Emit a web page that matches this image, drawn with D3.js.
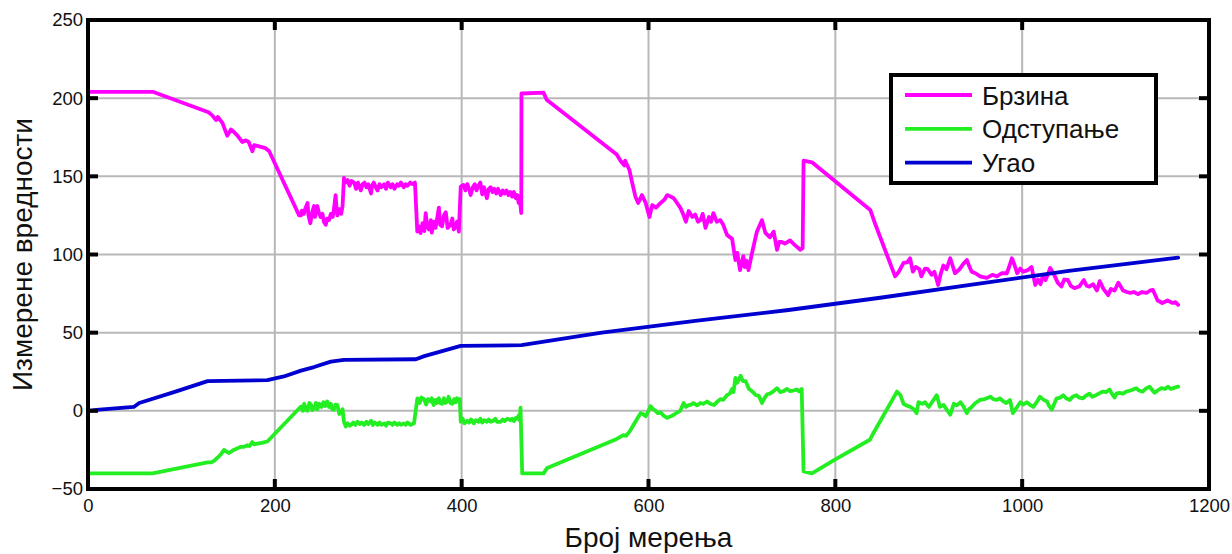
<!DOCTYPE html>
<html>
<head>
<meta charset="utf-8">
<script src="https://cdn.jsdelivr.net/npm/d3@7"></script>
<style>
  html, body { margin: 0; padding: 0; background: #fff; }
  svg { display: block; font-family: "Liberation Sans", Arial, sans-serif; }
</style>
</head>
<body>
<svg id="chart" width="1232" height="554"></svg>
<script>
// Measurement series: [measurement index, value]
const brzina = [
  [0,204],[70,204],[129,191],[133,189],[137,186],[139,188],[144,184],[149,176],[153,180],[156,178.5],
  [160,176],[165,172],[169,173],[172,172],[176,166],[178,170],[190,168],[194,166],
  [226,125],[228,125],[229,128],[231,126],[233,130],[235,133],[236,125],[238,120],[240,127],[242,131],
  [243,124],[245.6,131],[247,127],[249,124],[251,126],[252.5,121],[254.5,119],[256,123],[258,122],[260,126],
  [262,124],[263.5,130],[265,138],[266,130],[267,125],[269,129],[271,126],[272.5,131],
  [274,149],[276,146],[278,147.6],[280,144],[282,147],[285,146],[287,142],[289,146],[292,141],[294,145],
  [296,146],[298,143],[300,145],[303,139],[304,144],[306,146],[308,143],[310,141],[312,145],[314,143],
  [317,145],[319,142],[321,146],[324,143],[326,145],[328,142],[331,145],[333,144],[335,146],[338,143],
  [340,145],[342,144],[345,146],[347,145],[350,146],
  [352.5,114.6],[354,118],[356,113.7],[358,120],[360,115],[361.5,126.5],[363,118],[365,116],[367,122],[368,114],
  [370,121],[372,117],[374,124],[375.6,130],[377,119],[379,118],[381,125],[383,127],[385,117],[388,119],
  [390,123],[391.5,116],[393.6,117.8],[395,121],[397,114.6],
  [399,143.4],[402,144.5],[404,141],[406,145],[408,142],[409.6,138],[412,143],[414,145],[416,141],[418,144],
  [420,146],[422,138.5],[424,143],[427,136],[429,142],[431,143],[433,140],[435,142],[437,139],[439,142],
  [441.7,138],[444,141],[446,139],[448,141],[450,138],[452,140],[454,137],[456,140],[458,136],[459.6,138],
  [461,133],[462,137],[463.8,126.5],
  [464,203],[487.7,203.5],[491,199],[566,164],[570,160],[574,157],[575,160],[579.6,154],[582.5,146],[586,137],
  [589,133],[593,138],[597,133],[601,124],[604,131.6],[608,130],[613,133],[617,135],[620,138],[624,137],
  [627,136],[634,130],[637,126],[640,121],[643,127.8],[647,124],[650,125.6],[653,121],[655.6,122],[658,126],
  [661,117],[664.7,124],[667,121],[669.5,126.5],[673,121],[677,122],[680,119],[684,112.5],[689.5,110],[693,96.5],
  [695,101],[698,90],[701.5,99],[703,92],[705,96],[707,90],[710.5,100],[716,114.6],[721.5,122],[725,114],
  [730,111],[734,114.6],[737.6,103],[740,108],[742.6,108],[746,107],[751.5,109],[756.7,106],[762.6,103],[765,104],
  [766,160],[775,159],[837.4,128.5],[843,119],
  [864,86],[868,89],[873,94.6],[877,95],[880,97.6],[883,89],[886,92],[890,90.6],[892,86],[896,91],
  [899,90.6],[903,87],[906,89],[908.6,83.7],[910,80.5],[913,88],[915.6,93],[919,90.6],[923,97.6],[926,92],
  [928,88],[933,90.6],[937,94],[940.8,96.5],[943,93],[946,89],[950,88],[955,86],[962,85],[968,87],
  [973,86],[978,88],[983.6,88],[986,92],[989,97.6],[992,93],[994.6,88],[998,91],[1001,89],[1006,90],
  [1010,92],[1014,80.5],[1017,84],[1019.6,81],[1022,86],[1025,83.7],[1028,88],[1030,91.4],[1035,86],[1038,82],
  [1042,79.5],[1045,84],[1049,83.7],[1052,80],[1056,78.5],[1061,79.5],[1064,82],[1066,83.7],[1069,80],[1072,79.5],
  [1076,81],[1080,77],[1083,83],[1087,78],[1092,74],[1095,78],[1099,77],[1103,82],[1108,77],[1112,76],
  [1115.5,75.4],[1120,76],[1124,74.6],[1128,76],[1133,75.4],[1137,77],[1140,77.3],[1145,70.6],[1150,69],[1155.6,70.6],
  [1161,69],[1164,69.5],[1167,67.8]
];

const odstupanje = [
  [0,-40],[69,-40],[128,-33],[131.6,-33],[135,-32],[138.6,-30],[142,-28],[145.6,-25],[148,-26],[151,-27],
  [156,-25],[160,-24],[163.6,-23],[167,-23],[170.8,-22],[173,-22.5],[175.8,-20],[178,-21.5],[181,-21],[186,-20.5],
  [192,-19.6],
  [228,2.8],[230,0],[231.5,4.5],[233,1],[235,0],[237,5],[238.9,3.7],[240,0.5],[242,1.7],[244,5],
  [245.5,1],[247.6,4.5],[250,2.5],[252,5.5],[254,3],[256,6],[258,2.5],[260,4.5],[261.5,1],[263,0.6],
  [265,4],[267,3.7],[269,-2],[271,-1],[272.5,1],
  [274,-7],[276,-10],[278,-8],[280,-9.5],[281.7,-9],[284,-7.5],[286,-9],[288.6,-7],[291,-8.5],[293,-7.5],
  [295.6,-9],[298,-7],[300,-8.5],[303,-6.4],[305,-9],[307,-7.5],[310,-9],[312,-7.5],[314,-9],[317,-8],
  [319,-9.5],[321,-7.5],[324,-8],[326,-9],[328,-7.5],[331,-9],[333,-8],[335,-9],[338,-8],[340,-9],
  [342,-7.5],[345.5,-9],[347,-8.5],[349,-8],
  [352.6,8],[355,5],[357,8.5],[359.7,7.5],[362,4],[364,7.5],[366.8,6],[368,8],[370,3.7],[372,7],
  [373.5,5],[375.6,8],[377,5],[379,4.5],[381,8],[382.5,5],[384.5,6],[386,9],[388,5],[390,4.5],
  [392,7.5],[393.5,5.5],[395,8],[397,6],[398,7.5],
  [399,-7],[401,-5],[403,-8],[406,-6.4],[408,-7.5],[410,-5.5],[413,-8],[415,-6],[418,-7],[420,-5],
  [422,-7.5],[424,-6],[427,-7],[429,-5.5],[431,-7],[434,-6.4],[436,-5],[438,-7],[441.7,-7],[444,-5.5],
  [446,-6.5],[449,-5],[452,-6],[454,-5],[456,-6.5],[458,-4.5],[459.6,-5],[461,-3],[462,-6],[463,2],
  [464.8,-40],[487.7,-40],[491.6,-36.5],[566,-18],[573,-15.6],[576,-16],[580,-13],[583,-10],[586,-7],[589,-4],
  [591.6,-1.5],[594,-2],[597,-3.5],[600,0],[602,3],[605,1],[607.6,0],[610,-1.5],[612.9,-1],[616,-3],
  [620,-4.5],[624,-3.5],[627,-2.5],[631,-1],[634,0],[637.6,5],[640,2.5],[643,3.7],[646,4],[648,5],
  [652,3.5],[655.6,5],[659,4.5],[662.7,6],[666,4.5],[670,3.7],[674,6],[677,7.5],[680,7],[684,10],
  [687,11],[689.6,14],[691,12],[693,21],[695,18],[698.6,22.4],[701,19],[704,19],[707.5,14],[710,13],
  [712.6,11.5],[715,10],[718,9.6],[721.5,5],[724,8],[727,10.6],[730,11],[734,12.6],[737.6,14.5],[741,12],
  [744.6,12.6],[748,14],[751.6,12.6],[755,13],[758.8,13.6],[761,12.5],[764,14],
  [766,-38.8],[775,-40],[800,-31],[837,-18.5],[841,-14],[866,12.3],[869.7,10],[873,4.5],[876,3.5],[880.5,2.5],
  [884,1],[887,-1.5],[889,5.5],[893,4.5],[896,5.5],[900,2.5],[904,6],[908.6,10],[912,2.5],[916,3.7],
  [919,1],[923,-2.5],[926.8,4.5],[930,3.5],[934,5.5],[937,3],[940.8,-1.5],[943,1],[946,2.5],[950,5],
  [955,7],[960,7.5],[966,9],[969,7.5],[973,7],[976,8],[980,6],[983,5],[987,7],[990,-1.5],
  [994,2],[998,5.5],[1001,4],[1005,5.5],[1008,4],[1012,2.5],[1016,6],[1019,9],[1023,7],[1026.6,6],
  [1029,3],[1031.8,0.8],[1034,4],[1037,8],[1041,8.5],[1044,10],[1047,8],[1051,7],[1054,9],[1058,10],
  [1061,8.5],[1065,8],[1068,9.5],[1072,11],[1075,9],[1079,10],[1082,11],[1086,12.3],[1090,12],[1093.6,13.6],
  [1096,11],[1099,8.5],[1101,11],[1104,11.5],[1108,11],[1111.4,12.3],[1116,13],[1122,14.5],[1125,13],[1129,12.3],
  [1132,14],[1136.4,15.5],[1139,13.5],[1141.7,11.5],[1145,13],[1149,14.5],[1153,14],[1156,15.5],[1159,14],[1161.6,14.5],
  [1164,15],[1167,15.5]
];

const ugao = [
  [0,0],[9,0.6],[49,2.5],[54.8,5],[92,12],[128,19],[192,19.6],[209.7,22],[228,25.7],[242,28],
  [260,31.5],[274,32.6],[351,33],[360,35],[399,41.5],[464,42],[550,50],[650,57.5],[750,64.5],[850,72.5],
  [950,81],[1050,89.5],[1167,98]
];

const xTicks = [0, 200, 400, 600, 800, 1000, 1200];
const yTicks = [-50, 0, 50, 100, 150, 200, 250];

const seriesNames = ["Брзина", "Одступање", "Угао"];
const seriesColors = ["#ff00ff", "#22ee22", "#0000d0"];
const xTitle = "Број мерења";
const yTitle = "Измерене вредности";

// Layout
const W = 1232, H = 554;
const m = { left: 88, right: 23, top: 20, bottom: 65 };
const x0 = m.left, x1 = W - m.right, y0 = m.top, y1 = H - m.bottom;
const frameW = 4, tickLen = 10, tickW = 4;

const svg = d3.select("#chart");
const x = d3.scaleLinear().domain([0, 1200]).range([x0, x1]);
const y = d3.scaleLinear().domain([-50, 250]).range([y1, y0]);

// Grid
const grid = svg.append("g").attr("stroke", "#b8b8b8").attr("stroke-width", 2);
xTicks.slice(1, -1).forEach(t => grid.append("line")
  .attr("x1", x(t)).attr("x2", x(t)).attr("y1", y0).attr("y2", y1));
yTicks.slice(1, -1).forEach(t => grid.append("line")
  .attr("x1", x0).attr("x2", x1).attr("y1", y(t)).attr("y2", y(t)));

// Series
const line = d3.line().x(d => x(d[0])).y(d => y(d[1]));
[brzina, odstupanje, ugao].forEach((data, i) => {
  svg.append("path").datum(data)
    .attr("d", line)
    .attr("fill", "none")
    .attr("stroke", seriesColors[i])
    .attr("stroke-width", 3.8)
    .attr("stroke-linejoin", "round")
    .attr("stroke-linecap", "round");
});

// Tick labels from d3 axes (marks drawn separately below)
const fmt = d3.format("d");
const axB = svg.append("g").attr("transform", `translate(0,${y1})`)
  .call(d3.axisBottom(x).tickValues(xTicks).tickFormat(fmt).tickSize(0).tickPadding(10));
const axL = svg.append("g").attr("transform", `translate(${x0},0)`)
  .call(d3.axisLeft(y).tickValues(yTicks).tickFormat(fmt).tickSize(0).tickPadding(5));
[axB, axL].forEach(a => {
  a.select(".domain").remove();
  a.selectAll(".tick line").remove();
  a.selectAll(".tick text").attr("fill", "#111").attr("font-size", 18.5)
    .attr("font-family", "Liberation Sans, Arial, sans-serif");
});

// Inward tick marks on all four sides
const marks = svg.append("g").attr("fill", "#000");
xTicks.forEach(t => {
  marks.append("rect").attr("x", x(t) - tickW / 2).attr("y", y1 - tickLen).attr("width", tickW).attr("height", tickLen);
  marks.append("rect").attr("x", x(t) - tickW / 2).attr("y", y0).attr("width", tickW).attr("height", tickLen);
});
yTicks.forEach(t => {
  marks.append("rect").attr("x", x0).attr("y", y(t) - tickW / 2).attr("width", tickLen).attr("height", tickW);
  marks.append("rect").attr("x", x1 - tickLen).attr("y", y(t) - tickW / 2).attr("width", tickLen).attr("height", tickW);
});

// Frame as four solid bars
const h = frameW / 2;
const frame = svg.append("g").attr("fill", "#000");
frame.append("rect").attr("x", x0 - h).attr("y", y0 - h).attr("width", x1 - x0 + frameW).attr("height", frameW);
frame.append("rect").attr("x", x0 - h).attr("y", y1 - h).attr("width", x1 - x0 + frameW).attr("height", frameW);
frame.append("rect").attr("x", x0 - h).attr("y", y0 - h).attr("width", frameW).attr("height", y1 - y0 + frameW);
frame.append("rect").attr("x", x1 - h).attr("y", y0 - h).attr("width", frameW).attr("height", y1 - y0 + frameW);

// Axis titles
svg.append("text")
  .attr("x", (x0 + x1) / 2).attr("y", 547)
  .attr("text-anchor", "middle").attr("font-size", 28).attr("fill", "#111")
  .text(xTitle);
svg.append("text")
  .attr("transform", `translate(32,${(y0 + y1) / 2}) rotate(-90)`)
  .attr("text-anchor", "middle").attr("font-size", 28).attr("fill", "#111")
  .text(yTitle);

// Legend
const lg = svg.append("g");
lg.append("rect").attr("x", 891).attr("y", 75).attr("width", 265).attr("height", 108)
  .attr("fill", "#fff").style("stroke", "#000").style("stroke-width", "4px");
seriesNames.forEach((name, i) => {
  const ly = 95 + i * 33.8;
  lg.append("line").attr("x1", 905).attr("x2", 972).attr("y1", ly).attr("y2", ly)
    .attr("stroke", seriesColors[i]).attr("stroke-width", 3.8);
  lg.append("text").attr("x", 982).attr("y", ly + 9.5)
    .attr("font-size", 26).attr("fill", "#111").text(name);
});
</script>
</body>
</html>
